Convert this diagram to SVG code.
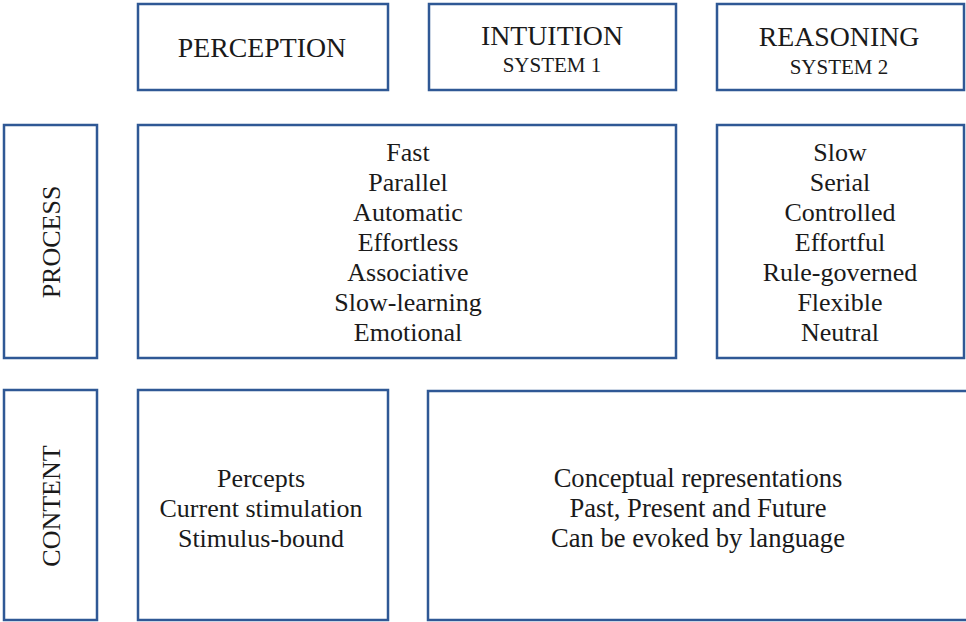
<svg xmlns="http://www.w3.org/2000/svg" width="966" height="622" viewBox="0 0 966 622">
<style>
.box{fill:#ffffff;stroke:#2f5895;stroke-width:2.5}
text{font-family:"Liberation Serif","Times New Roman",serif;fill:#1a1a1a;text-anchor:middle}
.hd{font-size:27.8px}
.sub{font-size:21px}
.bd{font-size:26px}
.bd2{font-size:26.6px}
.side{font-size:26px}
</style>
<rect x="0" y="0" width="966" height="622" fill="#ffffff"/>
<g id="perception">
<rect class="box" x="138" y="4" width="250" height="86"/>
<text class="hd" x="262" y="57">PERCEPTION</text>
</g>
<g id="intuition">
<rect class="box" x="429" y="4" width="247" height="86"/>
<text class="hd" x="552" y="45">INTUITION</text>
<text class="sub" x="552" y="72">SYSTEM 1</text>
</g>
<g id="reasoning">
<rect class="box" x="717" y="4" width="247" height="86"/>
<text class="hd" x="839" y="46">REASONING</text>
<text class="sub" x="839" y="74">SYSTEM 2</text>
</g>
<g id="process">
<rect class="box" x="4" y="125" width="93" height="233"/>
<text class="side" transform="translate(60,242) rotate(-90)">PROCESS</text>
</g>
<g id="intuition-process">
<rect class="box" x="138" y="125" width="538" height="233"/>
<text class="bd" x="408" y="161">Fast</text>
<text class="bd" x="408" y="191">Parallel</text>
<text class="bd" x="408" y="221">Automatic</text>
<text class="bd" x="408" y="251">Effortless</text>
<text class="bd" x="408" y="281">Associative</text>
<text class="bd" x="408" y="311">Slow-learning</text>
<text class="bd" x="408" y="341">Emotional</text>
</g>
<g id="reasoning-process">
<rect class="box" x="717" y="125" width="247" height="233"/>
<text class="bd" x="840" y="161">Slow</text>
<text class="bd" x="840" y="191">Serial</text>
<text class="bd" x="840" y="221">Controlled</text>
<text class="bd" x="840" y="251">Effortful</text>
<text class="bd" x="840" y="281">Rule-governed</text>
<text class="bd" x="840" y="311">Flexible</text>
<text class="bd" x="840" y="341">Neutral</text>
</g>
<g id="content">
<rect class="box" x="4" y="390" width="93" height="230"/>
<text class="side" transform="translate(60,506) rotate(-90)">CONTENT</text>
</g>
<g id="perception-content">
<rect class="box" x="138" y="390" width="250" height="230"/>
<text class="bd" x="261" y="487">Percepts</text>
<text class="bd" x="261" y="517">Current stimulation</text>
<text class="bd" x="261" y="547">Stimulus-bound</text>
</g>
<g id="conceptual-content">
<rect class="box" x="428" y="391" width="540" height="229"/>
<text class="bd2" x="698" y="487">Conceptual representations</text>
<text class="bd2" x="698" y="517">Past, Present and Future</text>
<text class="bd2" x="698" y="547">Can be evoked by language</text>
</g>
<g id="connectors"></g>
</svg>
